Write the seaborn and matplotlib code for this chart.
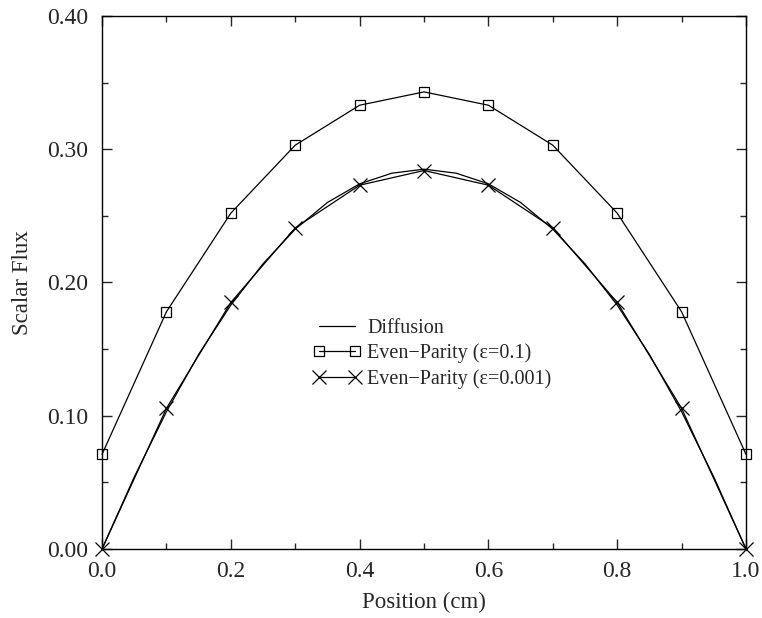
import numpy as np
import pandas as pd
import matplotlib
matplotlib.use("Agg")
import matplotlib.pyplot as plt
from matplotlib.ticker import MultipleLocator, FormatStrFormatter
import seaborn as sns

# node positions (cm) for the even-parity runs
positions = [0.0, 0.1, 0.2, 0.3, 0.4, 0.5, 0.6, 0.7, 0.8, 0.9, 1.0]
flux_eps_01 = [0.071, 0.178, 0.252, 0.303, 0.333, 0.343, 0.333, 0.303, 0.252, 0.178, 0.071]
flux_eps_0001 = [0.0, 0.1055, 0.185, 0.241, 0.273, 0.284, 0.273, 0.241, 0.185, 0.1055, 0.0]

diff_positions = [0.0, 0.05, 0.1, 0.15, 0.2, 0.25, 0.3, 0.35, 0.4, 0.45, 0.5,
                  0.55, 0.6, 0.65, 0.7, 0.75, 0.8, 0.85, 0.9, 0.95, 1.0]
diff_flux = [0.0, 0.054, 0.103, 0.146, 0.183, 0.214, 0.240, 0.260, 0.274, 0.282, 0.285,
             0.282, 0.274, 0.260, 0.240, 0.214, 0.183, 0.146, 0.103, 0.054, 0.0]

labels = ["Diffusion", "Even\u2212Parity (\u03b5=0.1)", "Even\u2212Parity (\u03b5=0.001)"]

sns.set_style("white")
plt.rcParams['font.family'] = ['Liberation Serif', 'DejaVu Serif']

fig = plt.figure(figsize=(7.62, 6.18), dpi=100)
ax = fig.add_axes([0.1339, 0.1117, 0.8451, 0.8625])

df_diff = pd.DataFrame({'x': diff_positions, 'y': diff_flux})
df_01 = pd.DataFrame({'x': positions, 'y': flux_eps_01})
df_0001 = pd.DataFrame({'x': positions, 'y': flux_eps_0001})

sns.lineplot(data=df_diff, x='x', y='y', ax=ax, color='black', linewidth=0.9, label=labels[0])
sns.lineplot(data=df_01, x='x', y='y', ax=ax, color='black', linewidth=0.9, marker='s',
             markersize=6.5, markerfacecolor='none', markeredgecolor='black',
             markeredgewidth=0.9, label=labels[1], clip_on=False)
sns.lineplot(data=df_0001, x='x', y='y', ax=ax, color='black', linewidth=0.9, marker='x',
             markersize=10, markeredgecolor='black', markeredgewidth=0.9, label=labels[2],
             clip_on=False)

ax.xaxis.set_major_locator(MultipleLocator(0.2))
ax.xaxis.set_minor_locator(MultipleLocator(0.1))
ax.yaxis.set_major_locator(MultipleLocator(0.1))
ax.yaxis.set_minor_locator(MultipleLocator(0.05))
ax.xaxis.set_major_formatter(FormatStrFormatter('%.1f'))
ax.yaxis.set_major_formatter(FormatStrFormatter('%.2f'))
ax.set_xlim(0, 1.0)
ax.set_ylim(0, 0.40)
ax.tick_params(which='major', direction='in', length=7.5, width=1, labelsize=17,
               bottom=True, left=True, top=True, right=True)
ax.tick_params(which='minor', direction='in', length=4, width=1,
               bottom=True, left=True, top=True, right=True)
ax.tick_params(axis='x', which='major', pad=9)
ax.tick_params(axis='y', which='major', pad=10)
for s in ax.spines.values():
    s.set_color('black')
    s.set_linewidth(1.0)

ax.set_xlabel("Position (cm)", fontsize=16.5, labelpad=7)
ax.set_ylabel("Scalar Flux", fontsize=16.5, labelpad=10)

ax.legend(loc='upper left', bbox_to_anchor=(0.315, 0.4475), borderaxespad=0, frameon=False,
          fontsize=14.5, numpoints=2, handlelength=2.4, handletextpad=0.3, labelspacing=0.3)

fig.savefig("out.png", dpi=100)
plt.close(fig)
